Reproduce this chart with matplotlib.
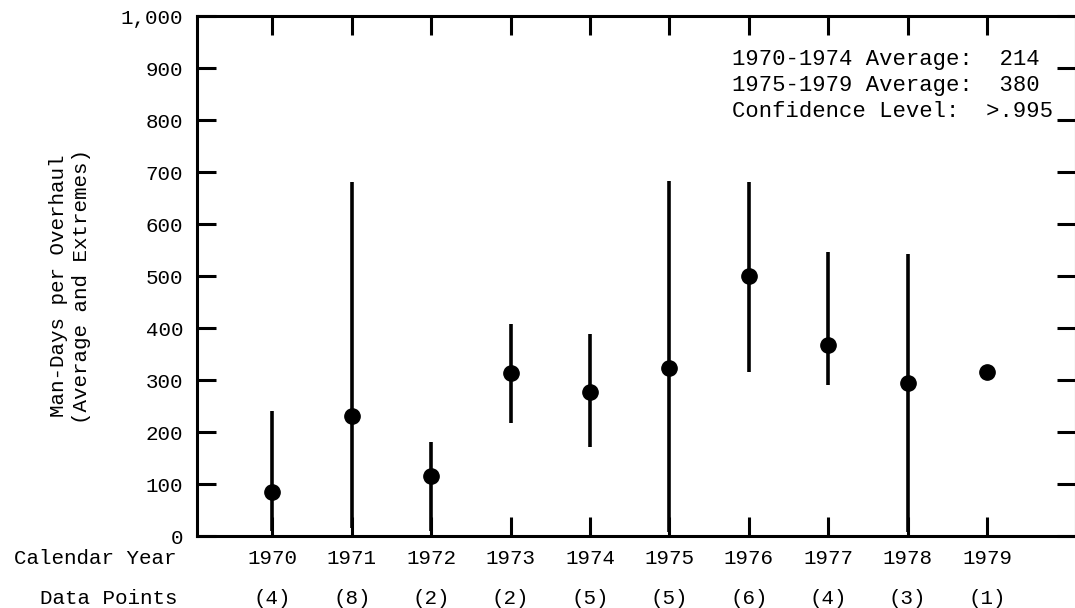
import matplotlib
matplotlib.use("Agg")
import matplotlib.pyplot as plt
import numpy as np
from matplotlib.ticker import FuncFormatter

plt.rcParams['font.family'] = ['Liberation Mono', 'DejaVu Sans Mono']

years = [1970, 1971, 1972, 1973, 1974, 1975, 1976, 1977, 1978, 1979]
averages = [84, 230, 115, 314, 276, 323, 500, 368, 294, 315]
lows = [10, 15, 10, 217, 171, 8, 315, 290, 8, np.nan]
highs = [240, 680, 180, 408, 388, 682, 680, 546, 543, np.nan]
data_points = [4, 8, 2, 2, 5, 5, 6, 4, 3, 1]
yticks = [0, 100, 200, 300, 400, 500, 600, 700, 800, 900, 1000]
annotation = ["1970-1974 Average:  214",
              "1975-1979 Average:  380",
              "Confidence Level:  >.995"]

W, H = 1075, 608
fig = plt.figure(figsize=(W / 100, H / 100), dpi=100)
ax = fig.add_axes([197 / W, 1 - 536 / H, (1076 - 197) / W, (536 - 16) / H])

ax.vlines(years, lows, highs, colors='black', linewidth=2.6)
ax.plot(years, averages, 'o', color='black', markersize=11)

ax.set_xlim(1969.05, 1980.12)
ax.set_ylim(0, 1000)
ax.set_yticks(yticks)
ax.yaxis.set_major_formatter(FuncFormatter(lambda v, p: f"{int(v):,}"))
ax.set_xticks(years)
ax.set_xticklabels([str(y) for y in years])

for s in ax.spines.values():
    s.set_linewidth(2.2)

ax.tick_params(axis='both', direction='in', length=14, width=2.2,
               top=True, right=True, colors='black')
ax.tick_params(axis='y', labelsize=15, pad=10)
ax.tick_params(axis='x', labelsize=15, pad=9)

# Row labels
tr = ax.get_xaxis_transform()
for yr, n in zip(years, data_points):
    ax.text(yr, -(598 - 536) / 520, f"({n})", transform=tr,
            ha='center', va='center', fontsize=15)

fig.text(177 / W, 1 - 558 / H, "Calendar Year", ha='right', va='center', fontsize=15)
fig.text(177 / W, 1 - 598 / H, "Data Points", ha='right', va='center', fontsize=15)

fig.text(70 / W, 1 - 286 / H, "Man-Days per Overhaul\n(Average and Extremes)",
         rotation=90, ha='center', va='center', fontsize=15,
         multialignment='center', linespacing=1.3)

fig.text(732 / W, 1 - 49 / H, "\n".join(annotation), ha='left', va='top',
         fontsize=16, linespacing=1.32)

fig.savefig("out.png", dpi=100)
